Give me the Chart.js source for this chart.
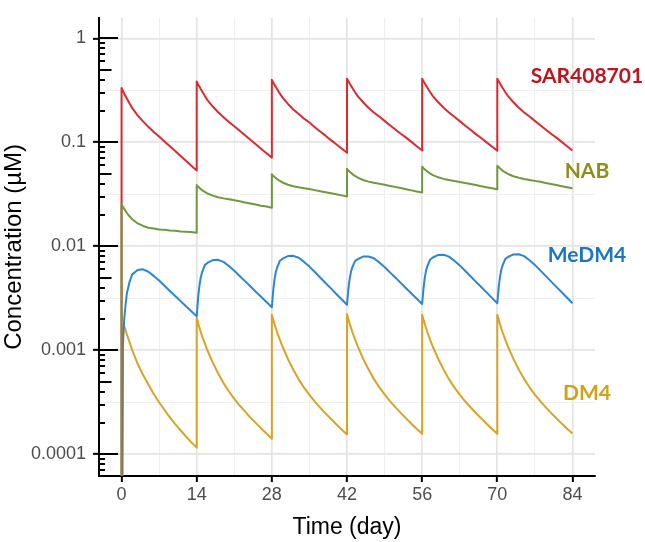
<!DOCTYPE html>
<html><head><meta charset="utf-8">
<script src="https://cdn.jsdelivr.net/npm/chart.js@4.4.1/dist/chart.umd.min.js"></script>
<style>html,body{margin:0;padding:0;background:#fff}#wrap{width:645px;height:542px;position:relative}</style>
</head><body><div id="wrap"><canvas id="c"></canvas></div>
<script>
// Time points (days); dosing every 14 days (pre- and post-dose samples at each dose time)
const days = [
  0,0,0.25,0.5,0.75,1,1.5,2,3,4,5,6,7,8,9,10,11,12,13,
  14,14,14.25,14.5,14.75,15,15.5,16,17,18,19,20,21,22,23,24,25,26,27,
  28,28,28.25,28.5,28.75,29,29.5,30,31,32,33,34,35,36,37,38,39,40,41,
  42,42,42.25,42.5,42.75,43,43.5,44,45,46,47,48,49,50,51,52,53,54,55,
  56,56,56.25,56.5,56.75,57,57.5,58,59,60,61,62,63,64,65,66,67,68,69,
  70,70,70.25,70.5,70.75,71,71.5,72,73,74,75,76,77,78,79,80,81,82,83,
  84
];
// Concentrations (µM)
const sar408701 = [
  0.000001,0.333,0.313,0.294,0.278,0.263,0.236,0.213,0.182,0.159,0.141,0.126,0.114,0.102,0.0916,0.0824,0.0740,0.0664,0.0597,
  0.0536,0.385,0.363,0.344,0.326,0.310,0.280,0.255,0.221,0.195,0.174,0.157,0.143,0.129,0.117,0.106,0.0959,0.0869,0.0787,
  0.0713,0.399,0.377,0.357,0.340,0.324,0.294,0.269,0.234,0.207,0.187,0.169,0.155,0.140,0.127,0.116,0.105,0.0959,0.0873,
  0.0794,0.410,0.388,0.368,0.350,0.333,0.303,0.278,0.243,0.215,0.194,0.177,0.161,0.146,0.133,0.121,0.111,0.101,0.0918,
  0.0836,0.410,0.388,0.368,0.350,0.333,0.303,0.278,0.243,0.215,0.194,0.176,0.160,0.145,0.132,0.120,0.110,0.100,0.0912,
  0.0830,0.410,0.388,0.368,0.350,0.333,0.303,0.278,0.243,0.215,0.194,0.177,0.161,0.146,0.133,0.121,0.111,0.101,0.0918,
  0.0836
];
const nab = [
  0.000001,0.0252,0.0240,0.0229,0.0219,0.0209,0.0194,0.0182,0.0166,0.0157,0.0151,0.0148,0.0145,0.0144,0.0142,0.0141,0.0139,0.0138,0.0137,
  0.0135,0.0388,0.0376,0.0366,0.0356,0.0347,0.0334,0.0322,0.0307,0.0296,0.0289,0.0283,0.0277,0.0271,0.0264,0.0258,0.0252,0.0246,0.0241,
  0.0235,0.0492,0.0477,0.0464,0.0453,0.0442,0.0425,0.0411,0.0391,0.0378,0.0369,0.0362,0.0355,0.0347,0.0339,0.0331,0.0324,0.0316,0.0309,
  0.0302,0.0556,0.0537,0.0522,0.0509,0.0495,0.0475,0.0458,0.0434,0.0419,0.0408,0.0399,0.0391,0.0381,0.0373,0.0363,0.0354,0.0345,0.0337,
  0.0329,0.0583,0.0564,0.0549,0.0535,0.0522,0.0501,0.0484,0.0461,0.0445,0.0434,0.0425,0.0416,0.0407,0.0397,0.0388,0.0379,0.0370,0.0361,
  0.0353,0.0597,0.0578,0.0562,0.0548,0.0534,0.0513,0.0496,0.0472,0.0456,0.0444,0.0435,0.0426,0.0417,0.0407,0.0397,0.0388,0.0379,0.0370,
  0.0361
];
const medm4 = [
  0.000001,0.000001,0.00112,0.00200,0.00275,0.00355,0.00457,0.00537,0.00592,0.00600,0.00569,0.00519,0.00468,0.00417,0.00372,0.00333,0.00297,0.00265,0.00237,
  0.00212,0.00212,0.00316,0.00417,0.00502,0.00562,0.00659,0.00692,0.00738,0.00741,0.00708,0.00646,0.00582,0.00519,0.00462,0.00412,0.00366,0.00327,0.00291,
  0.00259,0.00259,0.00372,0.00480,0.00569,0.00630,0.00726,0.00760,0.00805,0.00809,0.00776,0.00708,0.00638,0.00565,0.00501,0.00444,0.00394,0.00348,0.00309,
  0.00274,0.00274,0.00385,0.00488,0.00573,0.00630,0.00721,0.00752,0.00796,0.00798,0.00767,0.00700,0.00631,0.00561,0.00500,0.00445,0.00395,0.00352,0.00313,
  0.00279,0.00279,0.00394,0.00502,0.00590,0.00652,0.00746,0.00780,0.00826,0.00828,0.00796,0.00726,0.00655,0.00581,0.00515,0.00457,0.00406,0.00360,0.00319,
  0.00283,0.00283,0.00400,0.00509,0.00598,0.00659,0.00757,0.00789,0.00836,0.00838,0.00805,0.00735,0.00662,0.00586,0.00519,0.00460,0.00407,0.00361,0.00320,
  0.00283
];
const dm4 = [
  0.000001,0.000001,0.00158,0.00170,0.00157,0.00141,0.00119,0.00100,0.000741,0.000582,0.000468,0.000380,0.000316,0.000266,0.000226,0.000195,0.000170,0.000148,0.000130,
  0.000116,0.00205,0.00184,0.00165,0.00150,0.00137,0.00117,0.000995,0.000760,0.000598,0.000483,0.000401,0.000341,0.000294,0.000258,0.000225,0.000200,0.000177,0.000158,
  0.000141,0.00220,0.00198,0.00178,0.00162,0.00148,0.00126,0.00108,0.000824,0.000650,0.000525,0.000437,0.000372,0.000321,0.000281,0.000247,0.000219,0.000194,0.000173,
  0.000155,0.00222,0.00200,0.00180,0.00164,0.00149,0.00127,0.00109,0.000831,0.000656,0.000530,0.000441,0.000376,0.000324,0.000284,0.000250,0.000221,0.000196,0.000175,
  0.000157,0.00220,0.00198,0.00178,0.00162,0.00148,0.00126,0.00108,0.000825,0.000651,0.000527,0.000439,0.000374,0.000323,0.000283,0.000249,0.000221,0.000196,0.000175,
  0.000157,0.00220,0.00198,0.00178,0.00162,0.00148,0.00126,0.00108,0.000826,0.000652,0.000528,0.000440,0.000375,0.000324,0.000284,0.000250,0.000222,0.000197,0.000176,
  0.000158
];
const xMajorTicks = [0,14,28,42,56,70,84];
const xMinorTicks = [7,21,35,49,63,77];
const yMajorTicks = [0.0001,0.001,0.01,0.1,1];
const yMajorLabels = ['0.0001','0.001','0.01','0.1','1'];
const yMinorTicks = [0.000316,0.00316,0.0316,0.316];
const logTickDecades = [0.00001,0.0001,0.001,0.01,0.1,1];
const logTickMultipliers = [1,2,3,4,5,6,7,8,9];
const seriesNames = ['SAR408701','NAB','MeDM4','DM4'];
const labelDay = 86.7;
const labelConc = [0.436,0.0524,0.00813,0.000388];

const lineColors = ['#DC2B30','#6E9A3D','#2C86D6','#D9A426'];
const labelColors = ['#C0141E','#8E8E1C','#1B74C6','#D4A017'];

const toPoints = arr => days.map((d,i)=>({x:d, y:arr[i]}));
const baseFont = 'Liberation Sans, Arial, Helvetica, sans-serif';

const decorPlugin = {
  id: 'decor',
  afterDraw(chart) {
    const ctx = chart.ctx, ys = chart.scales.y, xs = chart.scales.x, area = chart.chartArea;
    ctx.save();
    ctx.strokeStyle = '#000'; ctx.lineWidth = 2;
    ctx.beginPath();
    logTickDecades.forEach(d => logTickMultipliers.forEach(m => {
      const v = d*m;
      if (v < ys.min || v > ys.max) return;
      const py = Math.round(ys.getPixelForValue(v));
      const len = m === 1 ? 19 : (m === 5 ? 12.5 : 6);
      ctx.moveTo(area.left, py); ctx.lineTo(area.left + len, py);
    }));
    ctx.stroke();
    ctx.font = 'bold 21px Lato, sans-serif';
    ctx.textAlign = 'center'; ctx.textBaseline = 'middle';
    seriesNames.forEach((n,i) => {
      ctx.fillStyle = labelColors[i];
      ctx.fillText(n, xs.getPixelForValue(labelDay), ys.getPixelForValue(labelConc[i]));
    });
    ctx.restore();
  }
};

const isXMajor = c => c.tick && xMajorTicks.includes(c.tick.value);
const isYMajor = c => c.tick && yMajorTicks.includes(c.tick.value);

new Chart(document.getElementById('c'), {
  type: 'line',
  data: {
    datasets: [
      {label: seriesNames[1], data: toPoints(nab), borderColor: lineColors[1]},
      {label: seriesNames[0], data: toPoints(sar408701), borderColor: lineColors[0]},
      {label: seriesNames[2], data: toPoints(medm4), borderColor: lineColors[2]},
      {label: seriesNames[3], data: toPoints(dm4), borderColor: lineColors[3]}
    ].map(d => Object.assign(d, {borderWidth: 2, pointRadius: 0, tension: 0, fill: false, borderJoinStyle: 'round'}))
  },
  options: {
    responsive: true, maintainAspectRatio: false, animation: false,
    layout: {padding: {top: 2, right: 50, left: 0, bottom: 0}},
    plugins: {legend: {display: false}, tooltip: {enabled: false}},
    scales: {
      x: {
        type: 'linear', min: -4.2, max: 88.2,
        afterBuildTicks: s => { s.ticks = [...xMajorTicks, ...xMinorTicks].sort((a,b)=>a-b).map(v => ({value: v})); },
        afterFit: s => { s.height = 66; },
        ticks: {autoSkip: false, maxRotation: 0, padding: 2, color: '#4d4d4d',
          font: {family: baseFont, size: 18},
          callback: v => xMajorTicks.includes(v) ? String(v) : ''},
        grid: {
          color: c => isXMajor(c) ? '#e4e4e4' : '#efefef',
          lineWidth: c => isXMajor(c) ? 1.7 : 1.1,
          tickColor: c => isXMajor(c) ? '#000' : 'rgba(0,0,0,0)',
          tickWidth: 2, tickLength: 6, drawTicks: true
        },
        border: {display: true, color: '#000', width: 2},
        title: {display: true, text: 'Time (day)', color: '#000',
          font: {family: baseFont, size: 23, lineHeight: 1}, padding: {top: 0, bottom: 2.5}}
      },
      y: {
        type: 'logarithmic', min: 0.0000617, max: 1.578,
        afterBuildTicks: s => { s.ticks = [...yMajorTicks, ...yMinorTicks].sort((a,b)=>a-b).map(v => ({value: v})); },
        afterFit: s => { s.width = 99; },
        ticks: {autoSkip: false, padding: 7, color: '#4d4d4d',
          font: {family: baseFont, size: 18},
          callback: v => { const i = yMajorTicks.indexOf(v); return i >= 0 ? yMajorLabels[i] : ''; }},
        grid: {
          color: c => isYMajor(c) ? '#e4e4e4' : '#efefef',
          lineWidth: c => isYMajor(c) ? 1.7 : 1.1,
          tickColor: c => isYMajor(c) ? '#000' : 'rgba(0,0,0,0)',
          tickWidth: 2, tickLength: 6, drawTicks: true
        },
        border: {display: true, color: '#000', width: 2},
        title: {display: true, text: 'Concentration (µM)', color: '#000',
          font: {family: baseFont, size: 24, lineHeight: 1}, padding: {top: 2, bottom: 0}}
      }
    }
  },
  plugins: [decorPlugin]
});
</script>
</body></html>
